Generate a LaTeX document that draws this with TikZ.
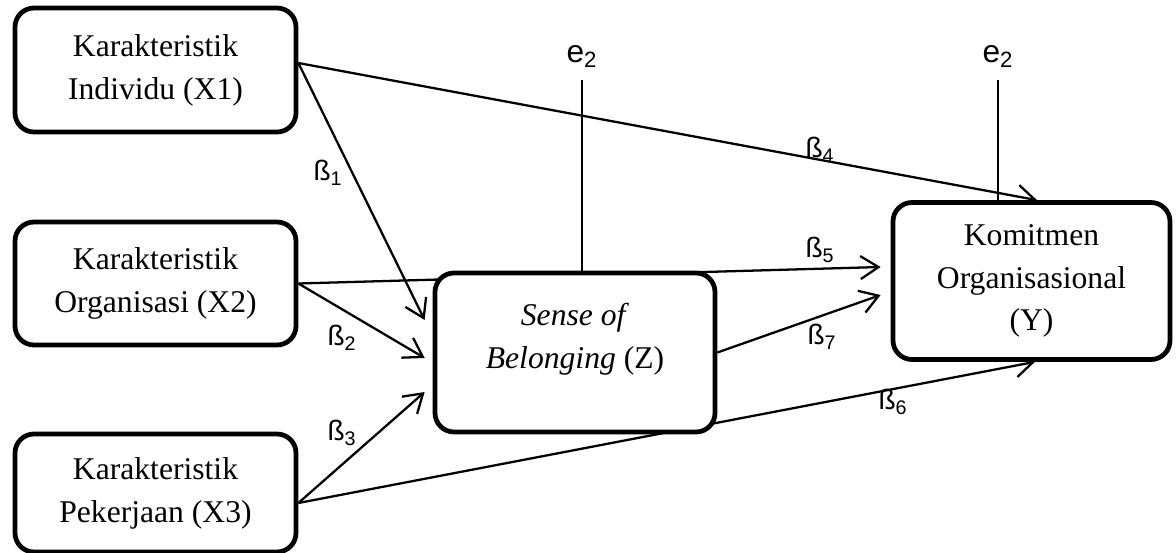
\documentclass[tikz,border=0pt]{standalone}
\usepackage{fontspec}
\setmainfont{Liberation Serif}
\newfontfamily\labelfont{Liberation Sans}
\usetikzlibrary{arrows.meta,backgrounds,positioning}
\definecolor{pmInk}{RGB}{0,0,0}
\tikzset{
  varbox/.style={draw=pmInk, fill=white, line width=2.7pt, rounded corners=0.38cm,
    align=center, inner sep=0pt, font=\fontsize{18}{24.4}\selectfont},
  relarrow/.style={draw=pmInk, line width=1.3pt, -{Straight Barb[length=3.6mm,width=4.6mm]}},
  errline/.style={draw=pmInk, line width=0.7pt},
  coef/.style={font=\labelfont\fontsize{16}{18}\selectfont, inner sep=0pt},
  errlabel/.style={font=\labelfont\fontsize{18}{20}\selectfont, inner sep=0pt}
}
\newcommand{\coefsym}[1]{ß\textsubscript{#1}}

\begin{document}
\begin{tikzpicture}
  \useasboundingbox (0,0) rectangle (23.52,-11.06);
  \node[varbox, minimum width=5.62cm, minimum height=2.48cm] (indiv) at (3.11,-1.40) {Karakteristik\\Individu (X1)};
  \node[varbox, minimum width=5.62cm, minimum height=2.46cm] (org) at (3.11,-5.67) {Karakteristik\\Organisasi (X2)};
  \node[varbox, minimum width=5.62cm, minimum height=2.36cm] (kerja) at (3.11,-9.86) {Karakteristik\\Pekerjaan (X3)};
  \node[varbox, minimum width=5.60cm, minimum height=3.18cm] (sob) at (11.50,-7.05) {\textit{Sense of}\\\textit{Belonging} (Z)\\[-5pt]\mbox{}};
  \node[varbox, minimum width=5.54cm, minimum height=3.14cm] (komit) at (20.63,-5.62) {Komitmen\\Organisasional\\(Y)};
  \node[errlabel] (erra) at (11.64,-1.12) {e\textsubscript{2}};
  \node[errlabel] (errb) at (19.96,-1.12) {e\textsubscript{2}};
  \begin{scope}[on background layer]
    \draw[relarrow] ([yshift=0.14cm]indiv.east) -- ([xshift=0.11cm]komit.north);
    \draw[relarrow] ([yshift=0.14cm]indiv.east) -- ([xshift=-0.16cm,yshift=0.65cm]sob.west);
    \draw[relarrow] (org.east) -- ([xshift=-0.2cm,yshift=0.28cm]komit.west);
    \draw[relarrow] (org.east) -- ([xshift=-0.16cm,yshift=-0.11cm]sob.west);
    \draw[relarrow] ([yshift=-0.2cm]kerja.east) -- ([xshift=-0.16cm,yshift=-0.79cm]sob.west);
    \draw[relarrow] ([yshift=-0.2cm]kerja.east) -- ([xshift=0.07cm]komit.south);
    \draw[relarrow] (sob.east) -- ([xshift=-0.2cm,yshift=-0.28cm]komit.west);
    \draw[errline] ([yshift=-0.48cm]erra.center) -- (erra |- sob.north);
    \draw[errline] ([yshift=-0.48cm]errb.center) -- (errb |- komit.north);
  \end{scope}
  \node[coef] (b1) at (6.56,-3.46) {\coefsym{1}};
  \node[coef] (b2) at (6.84,-6.76) {\coefsym{2}};
  \node[coef] (b3) at (6.84,-8.66) {\coefsym{3}};
  \node[coef] (b4) at (16.40,-3.00) {\coefsym{4}};
  \node[coef] (b5) at (16.40,-5.00) {\coefsym{5}};
  \node[coef] (b6) at (17.86,-8.04) {\coefsym{6}};
  \node[coef] (b7) at (16.44,-6.74) {\coefsym{7}};
\end{tikzpicture}
\end{document}
